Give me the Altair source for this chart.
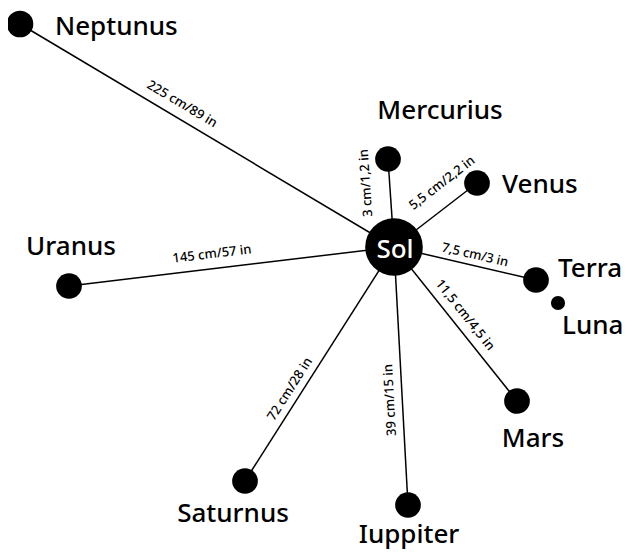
import altair as alt
import pandas as pd

# Bodies (layout coordinates, y downwards)
bodies = ["Sol", "Mercurius", "Venus", "Terra", "Luna", "Mars", "Iuppiter", "Saturnus", "Uranus", "Neptunus"]
body_x = [394, 388, 477, 536, 558, 517, 408, 245, 69, 20]
body_y = [247, 159, 183, 280, 303, 401, 505, 481, 286, 24]
body_r = [32.5, 14.5, 14.5, 14.5, 8, 14.5, 14.5, 14.5, 14.5, 15]

# Name labels
label_x = [395, 440, 502, 558, 562, 533, 409, 233, 71, 55]
label_y = [258, 119, 193, 277, 334, 447, 543, 522, 255, 35]
label_align = ["center", "center", "left", "left", "left", "center", "center", "center", "center", "left"]
label_color = ["white"] + ["black"] * 9

# Distance labels (planets joined to Sol)
dist_planets = ["Mercurius", "Venus", "Terra", "Mars", "Iuppiter", "Saturnus", "Uranus", "Neptunus"]
dist_text = ["3 cm/1,2 in", "5,5 cm/2,2 in", "7,5 cm/3 in", "11,5 cm/4,5 in",
             "39 cm/15 in", "72 cm/28 in", "145 cm/57 in", "225 cm/89 in"]
dist_x = [366, 442, 475, 465, 390, 290, 212, 182]
dist_y = [183, 183, 255, 315, 400, 389, 254, 104]
dist_angle = [266, 322.4, 13.1, 51.4, 266.9, 302.5, 353.2, 30.8]

sol_x, sol_y = body_x[0], body_y[0]
idx = {b: i for i, b in enumerate(bodies)}

lines = pd.DataFrame({
    "planet": dist_planets,
    "x": [sol_x] * len(dist_planets),
    "y": [sol_y] * len(dist_planets),
    "x2": [body_x[idx[p]] for p in dist_planets],
    "y2": [body_y[idx[p]] for p in dist_planets],
})

circles = pd.DataFrame({
    "body": bodies, "x": body_x, "y": body_y,
    "size": [3.14159 * r * r for r in body_r],
})

names = pd.DataFrame({
    "body": bodies, "x": label_x, "y": label_y,
    "align": label_align, "color": label_color,
})

dists = pd.DataFrame({"text": dist_text, "x": dist_x, "y": dist_y, "angle": dist_angle})

xs = alt.Scale(domain=[8, 624], nice=False, zero=False)
ys = alt.Scale(domain=[8, 551], nice=False, zero=False, reverse=True)

rules = alt.Chart(lines).mark_rule(color="black", strokeWidth=1.5).encode(
    x=alt.X("x:Q", scale=xs, axis=None),
    y=alt.Y("y:Q", scale=ys, axis=None),
    x2="x2:Q", y2="y2:Q",
)

dots = alt.Chart(circles).mark_circle(color="black", opacity=1).encode(
    x=alt.X("x:Q", scale=xs, axis=None),
    y=alt.Y("y:Q", scale=ys, axis=None),
    size=alt.Size("size:Q", scale=None),
)

font = "Noto Sans"

def name_layer(align):
    d = names[names["align"] == align]
    return alt.Chart(d).mark_text(align=align, baseline="alphabetic", fontSize=26,
                                  font=font, fontWeight=500).encode(
        x=alt.X("x:Q", scale=xs, axis=None),
        y=alt.Y("y:Q", scale=ys, axis=None),
        text="body:N",
        color=alt.Color("color:N", scale=None),
    )

dist_layer = alt.Chart(dists).mark_text(align="center", baseline="middle", fontSize=13,
                                        font=font, fontWeight=500, color="black").encode(
    x=alt.X("x:Q", scale=xs, axis=None),
    y=alt.Y("y:Q", scale=ys, axis=None),
    text="text:N",
    angle=alt.Angle("angle:Q", scale=None),
)

chart = alt.layer(rules, dots, name_layer("left"), name_layer("center"), dist_layer).properties(
    width=616, height=543, padding=0, autosize=alt.AutoSizeParams(type="none"),
    background="white",
).configure_view(stroke=None)

chart.save("out.html", embed_options={"renderer": "svg", "actions": False})
